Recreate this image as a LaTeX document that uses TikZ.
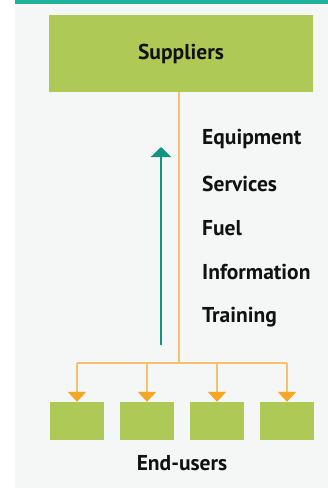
\documentclass[tikz,border=0pt]{standalone}
\usepackage{fontspec}
\setmainfont{PT Sans}
\usetikzlibrary{arrows.meta}

\definecolor{leaf}{HTML}{AFC957}
\definecolor{paper}{HTML}{F4F7F6}
\definecolor{band}{HTML}{20B29B}
\definecolor{upflow}{HTML}{12957E}
\definecolor{wire}{HTML}{F4C26E}
\definecolor{tip}{HTML}{F6A623}
\definecolor{ink}{HTML}{111111}

\begin{document}
\begin{tikzpicture}[x=1pt, y=-1pt,
      lbl/.style={font=\fontsize{21.5}{25}\bfseries\selectfont, text=ink},
      box/.style={fill=leaf, inner sep=0pt},
      user/.style={box, minimum width=54pt, minimum height=38pt},
      wireline/.style={draw=wire, line width=1.3pt},
      feed/.style={wireline, -{Triangle[width=18pt, length=10pt, color=tip]}},
      uparrow/.style={draw=upflow, line width=2.4pt, -{Triangle[width=20pt, length=10pt]}}
    ]
      \useasboundingbox (0,0) rectangle (328,488);
      % panel and top band
      \fill[paper] (15,0) rectangle (328,488);
      \fill[band] (15,0) rectangle (328,4);

      \node[box, minimum width=264pt, minimum height=77pt] (sup) at (181,53.5) {};
      \node[lbl] at (sup.center) {Suppliers};

      \node[user] (u1) at (77,421) {};
      \node[user] (u2) at (147,421) {};
      \node[user] (u3) at (217,421) {};
      \node[user] (u4) at (287,421) {};
      \node[lbl] (endusers) at (182,463) {End-users};

      % what flows up / down
      \foreach \txt [count=\i] in {Equipment, Services, Fuel, Information, Training}
        \node[lbl, anchor=west, inner sep=0pt] at (202,94.5+44.5*\i) {\txt};

      \coordinate (hub) at (179,363);
      \coordinate (up0) at (161,345);
      \coordinate (up1) at (161,147);

      \draw[wireline] (sup.south -| hub) -- (hub);
      \draw[wireline] (u1.north |- hub) -- (u4.north |- hub);
      \foreach \u in {u1,u2,u3,u4}
        \draw[feed] (\u.north |- hub) -- (\u.north);

      \draw[uparrow] (up0) -- (up1);
    \end{tikzpicture}
\end{document}
